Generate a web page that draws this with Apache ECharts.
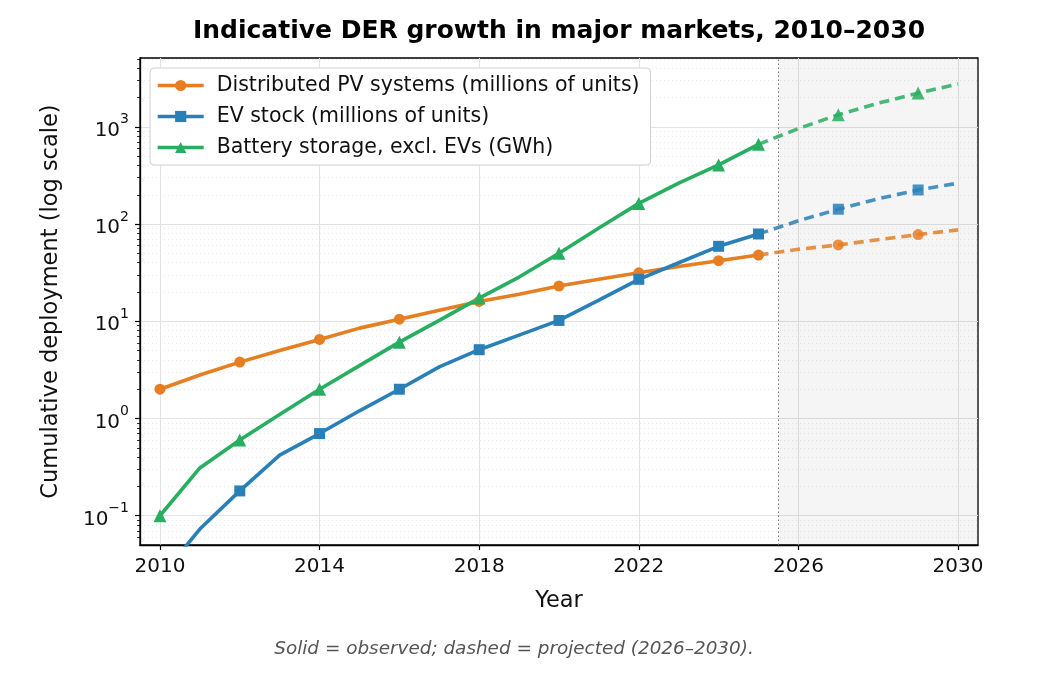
<!DOCTYPE html>
<html>
<head>
<meta charset="utf-8">
<script src="https://cdn.jsdelivr.net/npm/echarts@6/dist/echarts.min.js"></script>
<style>
  html, body { margin: 0; padding: 0; background: #fff; }
  #chart { width: 1057px; height: 683px; }
</style>
</head>
<body>
<div id="chart"></div>
<script>
// observed 2010-2025, projected 2025-2030 (projection starts from last observed point)
const obsYears = [2010, 2011, 2012, 2013, 2014, 2015, 2016, 2017, 2018, 2019, 2020, 2021, 2022, 2023, 2024, 2025];
const projYears = [2025, 2026, 2027, 2028, 2029, 2030];

const pvObs = [2.0, 2.8, 3.8, 5.0, 6.5, 8.5, 10.5, 13.0, 16.0, 19.0, 23.0, 27.0, 31.5, 36.5, 42.0, 48.0];
const pvProj = [48.0, 55.0, 61.0, 69.0, 78.0, 87.0];
const evObs = [0.023, 0.073, 0.18, 0.42, 0.70, 1.2, 2.0, 3.4, 5.1, 7.2, 10.2, 16.5, 27.0, 40.0, 59.0, 79.0];
const evProj = [79.0, 108.0, 142.0, 182.0, 224.0, 263.0];
const batObs = [0.10, 0.31, 0.60, 1.1, 2.0, 3.5, 6.1, 10.2, 17.3, 28.5, 50.0, 91.0, 163.0, 263.0, 405.0, 660.0];
const batProj = [660.0, 960.0, 1330.0, 1750.0, 2220.0, 2760.0];

const xTicks = [2010, 2014, 2018, 2022, 2026, 2030];
const yTicks = [0.1, 1, 10, 100, 1000];
const yTickExp = ['−1', '0', '1', '2', '3'];

const seriesNames = [
  'Distributed PV systems (millions of units)',
  'EV stock (millions of units)',
  'Battery storage, excl. EVs (GWh)'
];

const FONT = 'DejaVu Sans';
const colors = ['#E67E22', '#2980B9', '#27AE60'];
const symbols = ['circle', 'rect', 'triangle'];
const symbolSizes = [11, 11, 13];
const projStart = 2025.5;

// minor ticks at 2..9 x 10^k inside the visible range
const yMin = 0.05, yMax = 5100;
const yMinor = [];
[-2, -1, 0, 1, 2, 3].forEach(k => {
  [2, 3, 4, 5, 6, 7, 8, 9].forEach(m => {
    const v = +(m * Math.pow(10, k)).toPrecision(3);
    if (v > yMin && v < yMax) yMinor.push(v);
  });
});

function pts(years, vals, withMarker) {
  return years.map((y, i) => {
    const item = { value: [y, vals[i]] };
    if (!withMarker(y)) item.symbol = 'none';
    return item;
  });
}
const obsMark = y => y % 2 === 0 || y === 2025;
const projMark = y => y === 2027 || y === 2029;

const obsData = [pvObs, evObs, batObs];
const projData = [pvProj, evProj, batProj];

const series = [];
obsData.forEach((vals, i) => {
  series.push({
    name: seriesNames[i],
    type: 'line',
    data: pts(obsYears, vals, obsMark),
    symbol: symbols[i],
    symbolSize: symbolSizes[i],
    showAllSymbol: true,
    lineStyle: { color: colors[i], width: 3.6 },
    itemStyle: { color: colors[i] },
    z: 5
  });
});
projData.forEach((vals, i) => {
  const s = {
    name: seriesNames[i] + ' (projected)',
    type: 'line',
    data: pts(projYears, vals, projMark),
    symbol: symbols[i],
    symbolSize: symbolSizes[i],
    showAllSymbol: true,
    lineStyle: { color: colors[i], width: 3.6, type: [10, 6], opacity: 0.85 },
    itemStyle: { color: colors[i], opacity: 0.85 },
    z: 4
  };
  if (i === 0) {
    s.markArea = {
      silent: true,
      itemStyle: { color: 'rgba(0,0,0,0.04)' },
      data: [[{ xAxis: projStart }, { xAxis: 2030.5 }]]
    };
    s.markLine = {
      silent: true,
      symbol: 'none',
      label: { show: false },
      lineStyle: { color: '#777', type: [1.5, 2.5], width: 1 },
      data: [{ xAxis: projStart }]
    };
  }
  series.push(s);
});

const chart = echarts.init(document.getElementById('chart'), null, { renderer: 'canvas' });
chart.setOption({
  animation: false,
  backgroundColor: '#fff',
  textStyle: { fontFamily: FONT },
  grid: {
    left: 140, right: 79, top: 58, bottom: 138,
    show: true, borderColor: '#000', borderWidth: 1.3, backgroundColor: 'transparent'
  },
  legend: {
    data: seriesNames,
    orient: 'vertical',
    left: 150, top: 68,
    padding: [7, 11, 7, 6],
    itemGap: 10,
    itemWidth: 46,
    itemHeight: 14,
    lineStyle: { width: 3.4 },
    backgroundColor: '#fff',
    borderColor: '#d0d0d0',
    borderWidth: 1,
    borderRadius: 4,
    textStyle: { fontFamily: FONT, fontSize: 20.5, color: '#111', padding: [0, 0, 0, 8] }
  },
  xAxis: {
    type: 'value',
    min: 2009.5, max: 2030.5,
    name: 'Year',
    nameLocation: 'middle',
    nameGap: 45,
    nameTextStyle: { fontFamily: FONT, fontSize: 22.5, color: '#111' },
    axisLine: { show: true, lineStyle: { color: '#000', width: 1.3 } },
    axisTick: { show: true, length: 5, customValues: xTicks, lineStyle: { color: '#000', width: 1.2 } },
    axisLabel: { customValues: xTicks, margin: 12, fontFamily: FONT, fontSize: 20, color: '#111', formatter: v => String(v) },
    splitLine: { show: true, lineStyle: { color: '#e2e2e2', width: 1 } }
  },
  yAxis: [{
    type: 'log',
    logBase: 10,
    min: yMin, max: yMax,
    name: 'Cumulative deployment (log scale)',
    nameLocation: 'middle',
    nameGap: 77,
    nameTextStyle: { fontFamily: FONT, fontSize: 22.5, color: '#111' },
    axisLine: { show: true, lineStyle: { color: '#000', width: 1.3 } },
    axisTick: { show: true, length: 5, customValues: yTicks, lineStyle: { color: '#000', width: 1.2 } },
    axisLabel: {
      customValues: yTicks,
      margin: 11,
      formatter: v => '{b|10}{s|' + yTickExp[yTicks.indexOf(+(+v).toPrecision(3))] + '}',
      rich: {
        b: { fontFamily: FONT, fontSize: 20, color: '#111', lineHeight: 28, verticalAlign: 'bottom' },
        s: { fontFamily: FONT, fontSize: 14, color: '#111', lineHeight: 28, verticalAlign: 'top', padding: [0, 0, 10, 0] }
      }
    },
    splitLine: { show: true, lineStyle: { color: '#e2e2e2', width: 1 } }
  }, {
    type: 'log',
    logBase: 10,
    min: yMin, max: yMax,
    position: 'left',
    axisLine: { show: false },
    axisTick: { show: true, length: 3, customValues: yMinor, lineStyle: { color: '#000', width: 0.8 } },
    axisLabel: { show: false },
    splitLine: { show: true, lineStyle: { color: '#e6e6e6', width: 0.9, type: [1, 3] } }
  }],
  graphic: [{
    type: 'text',
    x: 559, y: 31,
    style: {
      text: 'Indicative DER growth in major markets, 2010–2030',
      fontFamily: FONT, fontSize: 25, fontWeight: 'bold', fill: '#000',
      align: 'center', verticalAlign: 'middle'
    }
  }, {
    type: 'text',
    x: 514, y: 649,
    style: {
      text: 'Solid = observed; dashed = projected (2026–2030).',
      fontFamily: FONT, fontSize: 18.4, fontStyle: 'italic', fill: '#555',
      align: 'center', verticalAlign: 'middle'
    }
  }],
  series: series
});
</script>
</body>
</html>
